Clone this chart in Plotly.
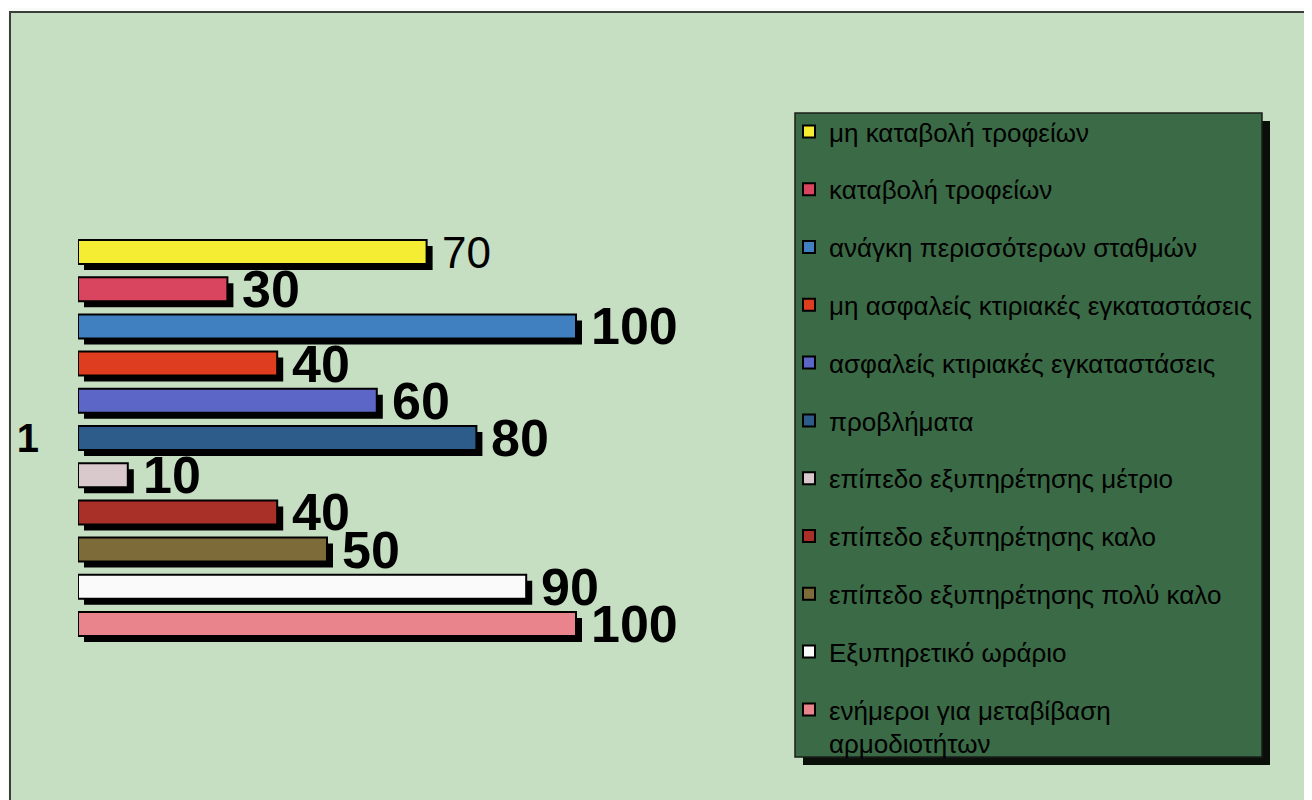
import plotly.graph_objects as go

# ---------------- data ----------------
categories = ["1"]
series_names = [
    "μη καταβολή τροφείων",
    "καταβολή τροφείων",
    "ανάγκη περισσότερων σταθμών",
    "μη ασφαλείς κτιριακές εγκαταστάσεις",
    "ασφαλείς κτιριακές εγκαταστάσεις",
    "προβλήματα",
    "επίπεδο εξυπηρέτησης μέτριο",
    "επίπεδο εξυπηρέτησης καλο",
    "επίπεδο εξυπηρέτησης πολύ καλο",
    "Εξυπηρετικό ωράριο",
    "ενήμεροι για μεταβίβαση<br>αρμοδιοτήτων",
]
values = [70, 30, 100, 40, 60, 80, 10, 40, 50, 90, 100]
colors = [
    "#f4ed33", "#d9445e", "#4080c0", "#de3d1f", "#5c66c6", "#2d5b8a",
    "#d9c9cd", "#a83028", "#7e6b3a", "#fafafa", "#e9838c",
]
label_bold = [False, True, True, True, True, True, True, True, True, True, True]

# ---------------- layout constants (page pixels) ----------------
OFF = 8                       # browser body margin
W, H = 1312 - OFF, 800 - OFF  # figure size
X0_PX = 78.0                  # page pixel of value 0
PX_PER_UNIT = 4.98
Y_CENTER_PX = 438.0           # page pixel of group centre
SLOT_PX = 37.2
BAR_PX = 24.0
SHADOW_PX = 6.0
n = len(values)


def px_x(p):
    return (p - OFF) / W


def px_y(p):
    return 1 - (p - OFF) / H


slot_u = SLOT_PX / H
bar_u = BAR_PX / H
sh_y = SHADOW_PX / H
sh_x = SHADOW_PX / PX_PER_UNIT

FONT = "Liberation Sans, Arial, Helvetica, sans-serif"

fig = go.Figure()

# shadows
for i, v in enumerate(values):
    c = (i - (n - 1) / 2) * slot_u
    fig.add_trace(go.Bar(
        y=categories, x=[v], base=sh_x, orientation="h",
        offset=c - bar_u / 2 + sh_y, width=bar_u,
        marker=dict(color="#000000", line=dict(width=0)),
        showlegend=False, hoverinfo="skip", legendgroup=f"g{i}",
    ))

# main bars
for i, (name, v, col) in enumerate(zip(series_names, values, colors)):
    c = (i - (n - 1) / 2) * slot_u
    fig.add_trace(go.Bar(
        y=categories, x=[v], orientation="h", name=name,
        offset=c - bar_u / 2, width=bar_u,
        marker=dict(color=col, line=dict(color="#000000", width=2)),
        legendgroup=f"g{i}",
    ))
    fig.add_annotation(
        x=v, y=c, xref="x", yref="y",
        text=(f"<b>{v}</b>" if label_bold[i] else f"{v}"),
        showarrow=False, xanchor="left", yanchor="middle", xshift=13,
        font=dict(family=FONT, size=(52 if label_bold[i] else 44), color="#000000"),
    )

shapes = [
    # chart area frame
    dict(type="rect", xref="paper", yref="paper", x0=px_x(10), x1=1.02,
         y0=-0.02, y1=px_y(12), fillcolor="#c6dfc2",
         line=dict(color="#3a3f3a", width=2), layer="below"),
    # legend shadow
    dict(type="rect", xref="paper", yref="paper", x0=px_x(803), x1=px_x(1270),
         y0=px_y(765), y1=px_y(121), fillcolor="#0a0f0a",
         line=dict(width=0), layer="below"),
    # legend box
    dict(type="rect", xref="paper", yref="paper", x0=px_x(795), x1=px_x(1262),
         y0=px_y(757), y1=px_y(113), fillcolor="#3b6b46",
         line=dict(color="#1a1f1a", width=1.5), layer="below"),
]

fig.update_layout(
    width=W, height=H, autosize=False,
    margin=dict(l=0, r=0, t=0, b=0, pad=0, autoexpand=False),
    paper_bgcolor="#f8fbf8", plot_bgcolor="rgba(0,0,0,0)",
    barmode="overlay",
    showlegend=True,
    legend=dict(
        x=px_x(829 - 40), xanchor="left", y=px_y(108), yanchor="top",
        bgcolor="rgba(0,0,0,0)", borderwidth=0,
        font=dict(family=FONT, size=26, color="#000000"),
        tracegroupgap=21, traceorder="grouped", valign="top",
    ),
    xaxis=dict(domain=[px_x(X0_PX), 1], range=[0, (W + OFF - X0_PX) / PX_PER_UNIT],
               visible=False, showgrid=False, zeroline=False),
    yaxis=dict(type="category", domain=[0, 1],
               range=[(H + OFF - Y_CENTER_PX) / H, -(Y_CENTER_PX - OFF) / H],
               showgrid=False, zeroline=False, showline=False, ticks="",
               ticklabelstandoff=38,
               tickfont=dict(family=FONT, size=40, color="#000000", weight="bold")),
    shapes=shapes,
    font=dict(family=FONT),
)

fig.write_html("out.html")
